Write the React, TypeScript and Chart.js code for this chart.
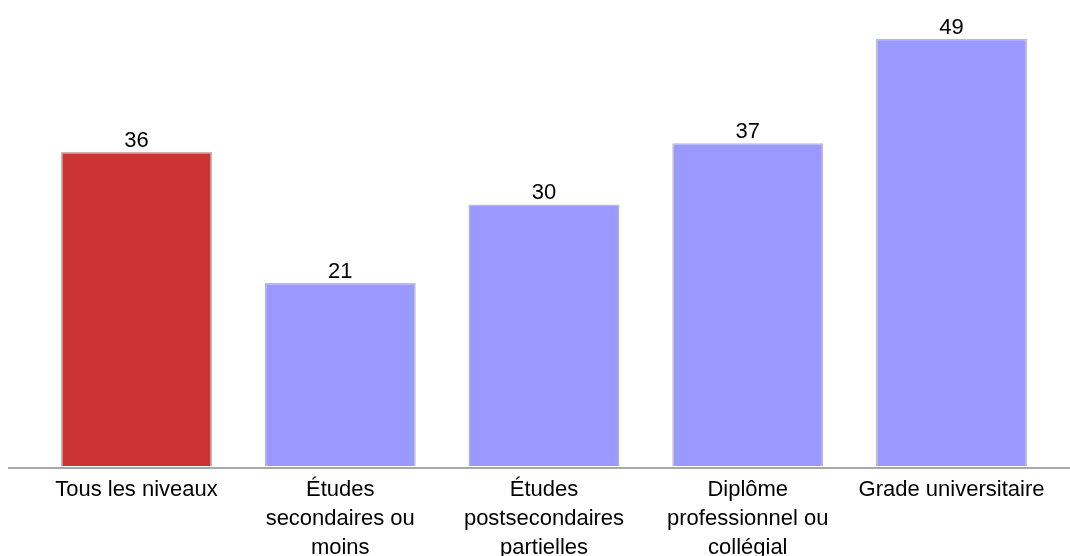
import React, { useEffect, useRef } from "react";
import { Chart, registerables } from "chart.js";

Chart.register(...registerables);

const categories: string[][] = [
  ["Tous les niveaux"],
  ["Études", "secondaires ou", "moins"],
  ["Études", "postsecondaires", "partielles"],
  ["Diplôme", "professionnel ou", "collégial"],
  ["Grade universitaire"],
];
const values: number[] = [36, 21, 30, 37, 49];
const barColors: string[] = ["#CC3333", "#9999FF", "#9999FF", "#9999FF", "#9999FF"];

const FONT = "Arial, 'Liberation Sans', sans-serif";

const valueLabels = {
  id: "valueLabels",
  afterDatasetsDraw(chart: any) {
    const ctx = chart.ctx;
    const meta = chart.getDatasetMeta(0);
    ctx.save();
    ctx.font = `22px ${FONT}`;
    ctx.fillStyle = "#000";
    ctx.textAlign = "center";
    ctx.textBaseline = "alphabetic";
    meta.data.forEach((bar: any, i: number) => {
      ctx.fillText(String(chart.data.datasets[0].data[i]), bar.x, bar.y - 5);
    });
    ctx.restore();
  },
};

const axisLine = {
  id: "axisLine",
  afterDraw(chart: any) {
    const ctx = chart.ctx;
    ctx.save();
    ctx.fillStyle = "#a8a8a8";
    ctx.fillRect(8, chart.chartArea.bottom + 1, chart.width - 8, 2);
    ctx.restore();
  },
};

export default function App() {
  const ref = useRef<HTMLCanvasElement | null>(null);
  useEffect(() => {
    if (!ref.current) return;
    const chart = new Chart(ref.current, {
      type: "bar",
      data: {
        labels: categories,
        datasets: [
          {
            data: values,
            backgroundColor: barColors,
            borderColor: "#bbbbbb",
            borderWidth: 1.5,
            barPercentage: 0.741,
            categoryPercentage: 1,
          },
        ],
      },
      options: {
        animation: false,
        responsive: false,
        maintainAspectRatio: false,
        layout: { padding: { top: 30, left: 34.6, right: 16.6, bottom: 0 } },
        plugins: {
          legend: { display: false },
          tooltip: { enabled: false },
        },
        scales: {
          x: {
            grid: { display: false, drawTicks: false },
            border: { display: false },
            ticks: {
              color: "#000",
              font: { family: FONT, size: 22, lineHeight: 29 / 22 },
              padding: 9,
              autoSkip: false,
              maxRotation: 0,
              minRotation: 0,
            },
            afterFit: (scale: any) => {
              scale.height = 90;
            },
          },
          y: {
            display: false,
            min: 0,
            max: 50,
          },
        },
      },
      plugins: [valueLabels, axisLine],
    });
    return () => chart.destroy();
  }, []);
  return (
    <div style={{ position: "fixed", left: 0, top: 0, width: 1070, height: 556, background: "#fff" }}>
      <canvas ref={ref} width={1070} height={556} style={{ width: 1070, height: 556, display: "block" }} />
    </div>
  );
}
